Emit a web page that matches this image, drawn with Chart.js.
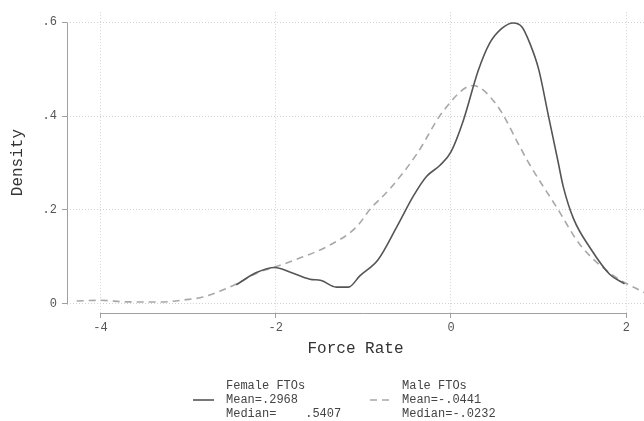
<!DOCTYPE html>
<html>
<head>
<meta charset="utf-8">
<script src="https://cdn.jsdelivr.net/npm/chart.js@4/dist/chart.umd.min.js"></script>
<style>
  html, body { margin: 0; padding: 0; background: #fff; }
  #wrap { width: 644px; height: 421px; }
</style>
</head>
<body>
<div id="wrap"><canvas id="kdensity" width="644" height="421"></canvas></div>
<script>
// Kernel density of force rate, female vs male FTOs.
const femaleX = [-2.45, -2.22, -2.01, -1.84, -1.61, -1.48, -1.31, -1.17, -1.04, -0.83, -0.62, -0.43,
    -0.28, -0.125, 0.0, 0.14, 0.31, 0.44, 0.58, 0.71, 0.81, 0.90, 1.0, 1.11, 1.22, 1.28, 1.40, 1.59, 1.81, 1.98];
const femaleY = [0.040, 0.066, 0.077, 0.0675, 0.052, 0.049, 0.035, 0.035, 0.059, 0.094, 0.163, 0.229,
    0.271, 0.295, 0.3235, 0.390, 0.4965, 0.555, 0.587, 0.5985, 0.590, 0.555, 0.500, 0.402, 0.304, 0.250, 0.180, 0.118, 0.0625, 0.042];

const maleX = [-4.27, -4.0, -3.70, -3.32, -3.02, -2.83, -2.64, -2.45, -2.18, -2.01, -1.72, -1.42, -1.08,
    -0.92, -0.70, -0.39, -0.09, 0.25, 0.52, 0.79, 0.88, 1.22, 1.47, 1.85, 2.22];
const maleY = [0.0054, 0.0069, 0.0035, 0.0033, 0.0083, 0.0138, 0.026, 0.0417, 0.068, 0.0777, 0.0975, 0.121, 0.163,
    0.202, 0.244, 0.319, 0.410, 0.465, 0.424, 0.333, 0.302, 0.201, 0.126, 0.060, 0.022];

const xTicks = [-4, -2, 0, 2];
const xTickLabels = ['-4', '-2', '0', '2'];
const yTicks = [0, 0.2, 0.4, 0.6];
const yTickLabels = ['0', '.2', '.4', '.6'];

const legendFemale = ['Female FTOs', 'Mean=.2968', 'Median=    .5407'];
const legendMale = ['Male FTOs', 'Mean=-.0441', 'Median=-.0232'];

const MONO = "'Liberation Mono', 'DejaVu Sans Mono', monospace";
const FEMALE_COLOR = '#555555';
const MALE_COLOR = '#a8a8a8';
const AXIS_COLOR = '#a0a0a0';

function toPoints(xs, ys) {
    return xs.map((x, i) => ({ x, y: ys[i] }));
}

// Stata draws its axis lines only over the labelled range, and the legend
// holds three text rows per key, so both are painted here.
const stataFrame = {
    id: 'stataFrame',
    afterDraw(chart) {
        const { ctx, chartArea, scales } = chart;
        const xs = scales.x, ys = scales.y;
        ctx.save();
        ctx.strokeStyle = AXIS_COLOR;
        ctx.lineWidth = 1;
        ctx.beginPath();
        const yb = Math.round(chartArea.bottom) + 0.5;
        ctx.moveTo(Math.round(xs.getPixelForValue(xTicks[0])) + 0.5, yb);
        ctx.lineTo(Math.round(xs.getPixelForValue(xTicks[xTicks.length - 1])) + 0.5, yb);
        const xl = Math.round(chartArea.left) + 0.5;
        ctx.moveTo(xl, Math.round(ys.getPixelForValue(yTicks[0])) + 0.5);
        ctx.lineTo(xl, Math.round(ys.getPixelForValue(yTicks[yTicks.length - 1])) + 0.5);
        ctx.stroke();

        // legend
        const keys = [
            { text: legendFemale, color: FEMALE_COLOR, dash: [], x0: 193, x1: 214, tx: 226 },
            { text: legendMale, color: MALE_COLOR, dash: [7, 5], x0: 370, x1: 391, tx: 402 },
        ];
        const rowY = [386, 400, 414];
        keys.forEach(k => {
            ctx.strokeStyle = k.color;
            ctx.lineWidth = 1.6;
            ctx.setLineDash(k.dash);
            ctx.beginPath();
            ctx.moveTo(k.x0, rowY[1]);
            ctx.lineTo(k.x1, rowY[1]);
            ctx.stroke();
            ctx.setLineDash([]);
            ctx.fillStyle = '#444';
            ctx.font = '12px ' + MONO;
            ctx.textBaseline = 'middle';
            ctx.textAlign = 'left';
            k.text.forEach((t, i) => ctx.fillText(t, k.tx, rowY[i]));
        });
        ctx.restore();
    },
};

new Chart(document.getElementById('kdensity'), {
    type: 'line',
    data: {
        datasets: [
            {
                label: 'Female FTOs',
                data: toPoints(femaleX, femaleY),
                borderColor: FEMALE_COLOR,
                borderWidth: 1.6,
                pointRadius: 0,
                cubicInterpolationMode: 'monotone',
                fill: false,
            },
            {
                label: 'Male FTOs',
                data: toPoints(maleX, maleY),
                borderColor: MALE_COLOR,
                borderWidth: 1.6,
                borderDash: [7, 5],
                pointRadius: 0,
                cubicInterpolationMode: 'monotone',
                fill: false,
            },
        ],
    },
    options: {
        responsive: false,
        animation: false,
        devicePixelRatio: 1,
        layout: { padding: { top: 5, right: 0, left: 0, bottom: 61 } },
        plugins: { legend: { display: false }, tooltip: { enabled: false } },
        scales: {
            x: {
                type: 'linear',
                min: -4.381,
                max: 2.202,
                afterBuildTicks: s => { s.ticks = xTicks.map(v => ({ value: v })); },
                afterFit: s => { s.height = 47; },
                border: { display: false, dash: [1, 2] },
                grid: { color: '#d2d2d2', lineWidth: 1, drawTicks: true, tickLength: 5, tickColor: AXIS_COLOR, tickBorderDash: [] },
                ticks: {
                    autoSkip: false, maxRotation: 0, padding: 3, color: '#555',
                    font: { family: MONO, size: 12 },
                    callback: v => xTickLabels[xTicks.indexOf(v)],
                },
                title: { display: true, text: 'Force Rate', color: '#333', font: { family: MONO, size: 16 }, padding: { top: 0, bottom: 2 } },
            },
            y: {
                type: 'linear',
                min: -0.0202,
                max: 0.6215,
                afterBuildTicks: s => { s.ticks = yTicks.map(v => ({ value: v })); },
                afterFit: s => { s.width = 67; },
                border: { display: false, dash: [1, 2] },
                grid: { color: '#d2d2d2', lineWidth: 1, drawTicks: true, tickLength: 5, tickColor: AXIS_COLOR, tickBorderDash: [] },
                ticks: {
                    autoSkip: false, padding: 5, color: '#555',
                    font: { family: MONO, size: 12 },
                    callback: v => yTickLabels[yTicks.indexOf(v)],
                },
                title: { display: true, text: 'Density', color: '#333', font: { family: MONO, size: 16 }, padding: { top: 8, bottom: 0 } },
            },
        },
    },
    plugins: [stataFrame],
});
</script>
</body>
</html>
